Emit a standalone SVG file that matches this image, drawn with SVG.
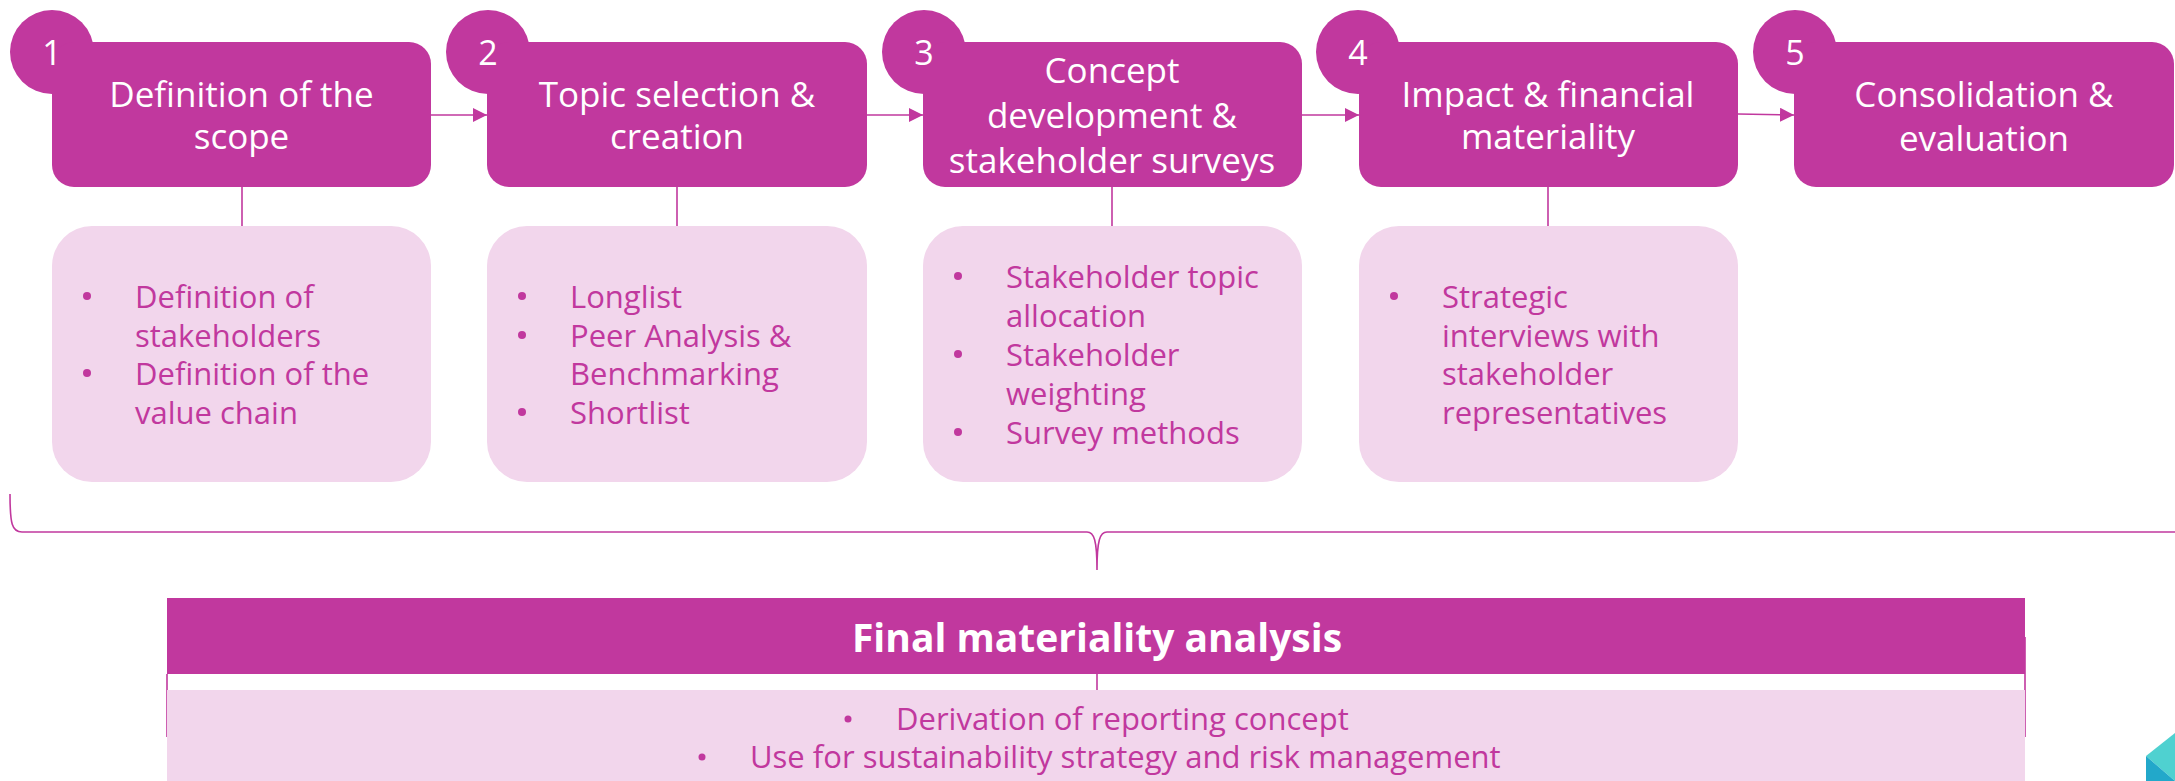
<svg xmlns="http://www.w3.org/2000/svg" width="2175" height="781" viewBox="0 0 2175 781">
<defs>
<style>
.hd{fill:#C1389E}
.num{font-family:"Open Sans","Noto Sans",sans-serif;font-size:34px;fill:#fff;text-anchor:middle}
.ht{font-family:"Open Sans","Noto Sans",sans-serif;font-size:35px;fill:#fff;text-anchor:middle}
.bx{fill:#F2D6EC}
.bt{font-family:"Open Sans","Noto Sans",sans-serif;font-size:31px;fill:#C1389E}
.bc{font-family:"Open Sans","Noto Sans",sans-serif;font-size:31px;fill:#C1389E}
.dot{fill:#C1389E}
.ln{stroke:#C1389E;stroke-width:1.6;fill:none}
</style>
<marker id="arr" viewBox="0 0 14 14" refX="14" refY="7" markerWidth="14" markerHeight="14" markerUnits="userSpaceOnUse" orient="auto">
<path d="M0,0 L14,7 L0,14 Z" fill="#C1389E"/>
</marker>
</defs>
<rect width="2175" height="781" fill="#fff"/>

<g id="connectors">
<line class="ln" x1="431" y1="115" x2="487" y2="115" marker-end="url(#arr)"/>
<line class="ln" x1="867" y1="115" x2="923" y2="115" marker-end="url(#arr)"/>
<line class="ln" x1="1302" y1="115" x2="1359" y2="115" marker-end="url(#arr)"/>
<line class="ln" x1="1738" y1="114" x2="1794" y2="115" marker-end="url(#arr)"/>
<line class="ln" x1="242" y1="187" x2="242" y2="226"/>
<line class="ln" x1="677" y1="187" x2="677" y2="226"/>
<line class="ln" x1="1112" y1="187" x2="1112" y2="226"/>
<line class="ln" x1="1548" y1="187" x2="1548" y2="226"/>
<path class="ln" d="M10,494 C10,524 12,532 22,532 L1087,532 C1094,532 1097,540 1097,570 C1097,540 1100,532 1107,532 L2180,532"/>
<line class="ln" x1="1097" y1="674" x2="1097" y2="690"/>
<line class="ln" x1="167" y1="674" x2="167" y2="737"/>
<line class="ln" x1="2025" y1="637" x2="2025" y2="737"/>
</g>

<g id="node1">
<circle class="hd" cx="52" cy="52" r="42"/>
<rect class="hd" x="52" y="42" width="379" height="145" rx="22"/>
<text class="num" x="52" y="65">1</text>
<text class="ht" x="241.5" y="107">Definition of the</text>
<text class="ht" x="241.5" y="149">scope</text>
</g>
<g id="node2">
<circle class="hd" cx="488" cy="52" r="42"/>
<rect class="hd" x="487" y="42" width="380" height="145" rx="22"/>
<text class="num" x="488" y="65">2</text>
<text class="ht" x="677" y="107">Topic selection &amp;</text>
<text class="ht" x="677" y="149">creation</text>
</g>
<g id="node3">
<circle class="hd" cx="924" cy="52" r="42"/>
<rect class="hd" x="923" y="42" width="379" height="145" rx="22"/>
<text class="num" x="924" y="65">3</text>
<text class="ht" x="1112" y="83">Concept</text>
<text class="ht" x="1112" y="128">development &amp;</text>
<text class="ht" x="1112" y="173">stakeholder surveys</text>
</g>
<g id="node4">
<circle class="hd" cx="1358" cy="52" r="42"/>
<rect class="hd" x="1359" y="42" width="379" height="145" rx="22"/>
<text class="num" x="1358" y="65">4</text>
<text class="ht" x="1548" y="107">Impact &amp; financial</text>
<text class="ht" x="1548" y="149">materiality</text>
</g>
<g id="node5">
<circle class="hd" cx="1795" cy="52" r="42"/>
<rect class="hd" x="1794" y="42" width="380" height="145" rx="22"/>
<text class="num" x="1795" y="65">5</text>
<text class="ht" x="1984" y="107">Consolidation &amp;</text>
<text class="ht" x="1984" y="151">evaluation</text>
</g>

<g id="box1">
<rect class="bx" x="52" y="226" width="379" height="256" rx="40"/>
<circle class="dot" cx="87" cy="296" r="4"/>
<text class="bt" x="135" y="308">Definition of</text>
<text class="bt" x="135" y="347">stakeholders</text>
<circle class="dot" cx="87" cy="373" r="4"/>
<text class="bt" x="135" y="385">Definition of the</text>
<text class="bt" x="135" y="424">value chain</text>
</g>
<g id="box2">
<rect class="bx" x="487" y="226" width="380" height="256" rx="40"/>
<circle class="dot" cx="522" cy="296" r="4"/>
<text class="bt" x="570" y="308">Longlist</text>
<circle class="dot" cx="522" cy="335" r="4"/>
<text class="bt" x="570" y="347">Peer Analysis &amp;</text>
<text class="bt" x="570" y="385">Benchmarking</text>
<circle class="dot" cx="522" cy="412" r="4"/>
<text class="bt" x="570" y="424">Shortlist</text>
</g>
<g id="box3">
<rect class="bx" x="923" y="226" width="379" height="256" rx="40"/>
<circle class="dot" cx="958" cy="276" r="4"/>
<text class="bt" x="1006" y="288">Stakeholder topic</text>
<text class="bt" x="1006" y="327">allocation</text>
<circle class="dot" cx="958" cy="354" r="4"/>
<text class="bt" x="1006" y="366">Stakeholder</text>
<text class="bt" x="1006" y="405">weighting</text>
<circle class="dot" cx="958" cy="432" r="4"/>
<text class="bt" x="1006" y="444">Survey methods</text>
</g>
<g id="box4">
<rect class="bx" x="1359" y="226" width="379" height="256" rx="40"/>
<circle class="dot" cx="1394" cy="296" r="4"/>
<text class="bt" x="1442" y="308">Strategic</text>
<text class="bt" x="1442" y="347">interviews with</text>
<text class="bt" x="1442" y="385">stakeholder</text>
<text class="bt" x="1442" y="424">representatives</text>
</g>

<g id="final">
<rect class="hd" x="167" y="598" width="1858" height="76"/>
<text x="1097" y="652" font-family="Open Sans, Noto Sans, sans-serif" font-size="39" font-weight="bold" fill="#fff" text-anchor="middle">Final materiality analysis</text>
</g>
<g id="final-details">
<rect class="bx" x="167" y="690" width="1858" height="91"/>
<circle class="dot" cx="848" cy="719" r="3.5"/>
<text class="bc" x="896" y="730">Derivation of reporting concept</text>
<circle class="dot" cx="702" cy="757" r="3.5"/>
<text class="bc" x="750" y="768">Use for sustainability strategy and risk management</text>
</g>

<g id="logo">
<polygon points="2146,756 2175,733 2175,781" fill="#4FD1D0"/>
<polygon points="2146,756 2175,781 2146,781" fill="#22A8CA"/>
</g>
</svg>
